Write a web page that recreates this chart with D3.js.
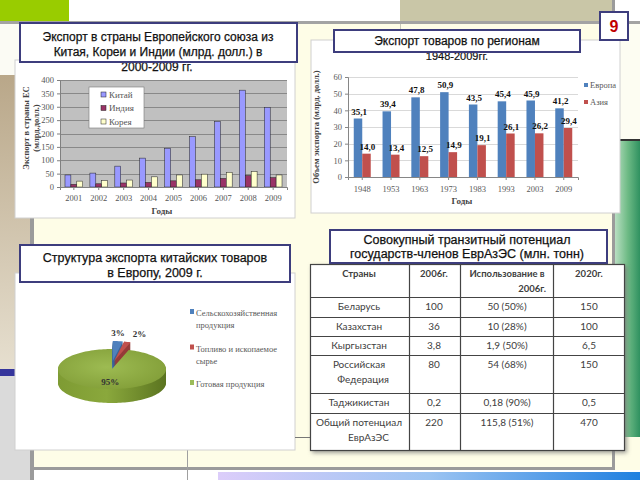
<!DOCTYPE html>
<html><head><meta charset="utf-8">
<script src="https://cdn.jsdelivr.net/npm/d3@7"></script>
<style>body{margin:0;background:#fff;} svg{display:block;}</style>
</head><body>
<svg id="c" width="640" height="480"></svg>
<script>
// ---------- DATA ----------
const years1 = ["2001","2002","2003","2004","2005","2006","2007","2008","2009"];
const series1 = ["Китай","Индия","Корея"];
const china = [45, 52, 78, 108, 145, 188, 245, 362, 298];
const india = [10, 12, 15, 17, 23, 27, 32, 43, 35];
const korea = [22, 24, 26, 38, 45, 48, 55, 58, 45];
const yTicks1 = [0, 50, 100, 150, 200, 250, 300, 350, 400];

const years2 = ["1948","1953","1963","1973","1983","1993","2003","2009"];
const series2 = ["Европа","Азия"];
const europe = [35.1, 39.4, 47.8, 50.9, 43.5, 45.4, 45.9, 41.2];
const asia = [14.0, 13.4, 12.5, 14.9, 19.1, 26.1, 26.2, 29.4];
const yTicks2 = [0, 10, 20, 30, 40, 50, 60];

const pieLabels = [["Сельскохозяйственная","продукция"],["Топливо и ископаемое","сырье"],["Готовая продукция"]];
const pieValues = [3, 2, 95];

const tableHeader = [["Страны"],["2006г."],["Использование в","2006г."],["2020г."]];
const tableCountries = [["Беларусь"],["Казахстан"],["Кыргызстан"],["Российская","Федерация"],["Таджикистан"],["Общий потенциал","ЕврАзЭС"]];
const cap2006 = ["100","36","3,8","80","0,2","220"];
const use2006 = ["50 (50%)","10 (28%)","1,9 (50%)","54 (68%)","0,18 (90%)","115,8 (51%)"];
const cap2020 = ["150","100","6,5","150","0,5","470"];

// ---------- SETUP ----------
const svg = d3.select("#c");
const defs = svg.append("defs");
const SERIF = "'Liberation Serif','Times New Roman',serif";
const SANS = "'Liberation Sans',Arial,sans-serif";

function lin(id, x2, y2, stops){
  const g = defs.append("linearGradient").attr("id",id).attr("x1",0).attr("y1",0).attr("x2",x2).attr("y2",y2);
  stops.forEach(s=>g.append("stop").attr("offset",s[0]).attr("stop-color",s[1]));
}
lin("gBrown",0,1,[[0,"#b9a789"],[1,"#e6dfcf"]]);
lin("gBlueBar",1,0,[[0,"#dccdfa"],[0.5,"#9cc4f2"],[1,"#1f7fe0"]]);
lin("gGreenSide",1,0,[[0,"#b9dfc2"],[0.5,"#6fbb86"],[1,"#2f9160"]]);
lin("gPieSide",1,0,[[0,"#7e9b33"],[0.45,"#8aa83c"],[1,"#5b7420"]]);
const rg = defs.append("radialGradient").attr("id","gPieTop").attr("cx","45%").attr("cy","45%").attr("r","60%");
rg.append("stop").attr("offset",0).attr("stop-color","#9dbb52");
rg.append("stop").attr("offset",1).attr("stop-color","#839f39");
const sh = defs.append("filter").attr("id","shadow").attr("x","-5%").attr("y","-5%").attr("width","112%").attr("height","112%");
sh.append("feDropShadow").attr("dx",2).attr("dy",2).attr("stdDeviation",2).attr("flood-color","#777").attr("flood-opacity",0.7);

// ---------- BACKGROUND ----------
const bg = svg.append("g");
bg.append("rect").attr("width",640).attr("height",480).attr("fill","#fefde7");
bg.append("rect").attr("x",0).attr("y",0).attr("width",640).attr("height",21).attr("fill","#ffffff");
bg.append("rect").attr("x",0).attr("y",0).attr("width",69).attr("height",21).attr("fill","#99cc00");
bg.append("rect").attr("x",400).attr("y",0).attr("width",212).attr("height",21).attr("fill","#c9c6a7");
bg.append("rect").attr("x",0).attr("y",21).attr("width",640).attr("height",3).attr("fill","#a3a3a3");
bg.append("rect").attr("x",0).attr("y",24).attr("width",30).attr("height",51).attr("fill","#fbfbf4");
bg.append("rect").attr("x",0).attr("y",75).attr("width",30).attr("height",294).attr("fill","url(#gBrown)");
bg.append("rect").attr("x",0).attr("y",369).attr("width",30).attr("height",7).attr("fill","#35359c");
bg.append("rect").attr("x",0).attr("y",376).attr("width",30).attr("height",104).attr("fill","#dadada");
bg.append("rect").attr("x",30).attr("y",24).attr("width",4).attr("height",456).attr("fill","#9b9b9b");
bg.append("rect").attr("x",34).attr("y",470).attr("width",606).attr("height",10).attr("fill","#ffffff");
bg.append("rect").attr("x",34).attr("y",467).attr("width",581).attr("height",3).attr("fill","#9b9b9b");
bg.append("line").attr("x1",187.5).attr("x2",187.5).attr("y1",440).attr("y2",480).attr("stroke","#a0a0a0");
bg.append("line").attr("x1",400.5).attr("x2",400.5).attr("y1",24).attr("y2",45).attr("stroke","#c8c8b8");
bg.append("rect").attr("x",218).attr("y",472).attr("width",422).attr("height",8).attr("fill","url(#gBlueBar)");
bg.append("rect").attr("x",615).attr("y",24).attr("width",25).attr("height",116).attr("fill","#fdfdf2");
bg.append("rect").attr("x",612).attr("y",0).attr("width",3).attr("height",470).attr("fill","#9b9b9b");
bg.append("rect").attr("x",615).attr("y",141).attr("width",25).attr("height",296).attr("fill","url(#gGreenSide)");
bg.append("rect").attr("x",612).attr("y",139).attr("width",28).attr("height",2).attr("fill","#333");

function titleBox(x,y,w,h,lines,baselines,cx,size){
  const g = svg.append("g");
  g.append("rect").attr("x",x).attr("y",y).attr("width",w).attr("height",h)
    .attr("fill","#fff").attr("stroke","#3d3d7d").attr("stroke-width",2);
  lines.forEach((t,i)=>g.append("text").attr("x",cx).attr("y",baselines[i]).attr("text-anchor","middle")
    .attr("font-family",SANS).attr("font-size",size).attr("fill","#111")
    .attr("stroke","#111").attr("stroke-width",0.25).text(t));
}

// ---------- CHART 1 ----------
svg.append("rect").attr("x",15).attr("y",60).attr("width",280).attr("height",158).attr("fill","#fff").attr("stroke","#d0d0d0");
svg.append("text").attr("x",157).attr("y",71).attr("text-anchor","middle").attr("font-family",SANS).attr("font-size",12).attr("fill","#111").attr("stroke","#111").attr("stroke-width",0.25).text("2000-2009 гг.");
const c1 = svg.append("g");
const x1 = d3.scaleBand().domain(years1).range([60,287]).paddingInner(0.29).paddingOuter(0.2);
const x1s = d3.scaleBand().domain(series1).range([0,x1.bandwidth()]);
const y1 = d3.scaleLinear().domain([0,400]).range([187,80]);
c1.append("rect").attr("x",60).attr("y",80).attr("width",227).attr("height",107).attr("fill","#c0c0c0");
c1.selectAll(".g1").data(yTicks1).join("line").attr("x1",60).attr("x2",287)
  .attr("y1",d=>Math.round(y1(d))+0.5).attr("y2",d=>Math.round(y1(d))+0.5).attr("stroke","#7a7a7a").attr("stroke-width",0.8);
const cols1 = ["#9999ff","#993366","#ffffcc"];
const vals1 = [china, india, korea];
series1.forEach((s,si)=>{
  c1.selectAll(null).data(years1).join("rect")
    .attr("x",d=>x1(d)+x1s(s)).attr("width",x1s.bandwidth())
    .attr("y",(d,i)=>y1(vals1[si][i])).attr("height",(d,i)=>y1(0)-y1(vals1[si][i]))
    .attr("fill",cols1[si]).attr("stroke","#222").attr("stroke-width",0.5);
});
const ax1 = c1.append("g").attr("transform","translate(60,0)").call(d3.axisLeft(y1).tickValues(yTicks1).tickSize(3));
ax1.select(".domain").attr("stroke","#808080");
ax1.selectAll("line").attr("stroke","#808080");
ax1.selectAll("text").attr("font-family",SERIF).attr("font-size",8.5).attr("fill","#555");
const bx1 = c1.append("g").attr("transform","translate(0,187)").call(d3.axisBottom(x1).tickSize(3).tickPadding(5));
bx1.select(".domain").attr("stroke","#808080");
bx1.selectAll("line").attr("stroke","#808080");
bx1.selectAll("text").attr("font-family",SERIF).attr("font-size",8.5).attr("fill","#555");
c1.append("text").attr("x",162).attr("y",214).attr("text-anchor","middle").attr("font-family",SERIF).attr("font-weight","bold").attr("font-size",9).attr("fill","#444").text("Годы");
c1.append("text").attr("transform","translate(29,128) rotate(-90)").attr("text-anchor","middle").attr("font-family",SERIF).attr("font-weight","bold").attr("font-size",8.5).attr("fill","#444").text("Экспорт в страны ЕС");
c1.append("text").attr("transform","translate(39,128) rotate(-90)").attr("text-anchor","middle").attr("font-family",SERIF).attr("font-weight","bold").attr("font-size",8.5).attr("fill","#444").text("(млрд.долл.)");
c1.append("rect").attr("x",89).attr("y",87).attr("width",55).attr("height",41).attr("fill","#fff").attr("stroke","#777").attr("stroke-width",0.6);
series1.forEach((s,i)=>{
  c1.append("rect").attr("x",101).attr("y",92+i*13.5).attr("width",5).attr("height",5).attr("fill",cols1[i]).attr("stroke","#222").attr("stroke-width",0.5);
  c1.append("text").attr("x",109).attr("y",97.5+i*13.5).attr("font-family",SERIF).attr("font-size",9).attr("fill","#555").text(s);
});
titleBox(20,23,277,39,["Экспорт в страны Европейского союза из","Китая, Кореи и Индии (млрд. долл.) в"],[41,56],158,12);

// ---------- CHART 2 ----------
svg.append("rect").attr("x",311).attr("y",40).attr("width",309).attr("height",173).attr("fill","#fff").attr("stroke","#d0d0d0");
svg.append("text").attr("x",457).attr("y",60).attr("text-anchor","middle").attr("font-family",SANS).attr("font-size",11).attr("fill","#111").attr("stroke","#111").attr("stroke-width",0.2).text("1948-2009гг.");
const c2 = svg.append("g");
const x2 = d3.scaleBand().domain(years2).range([348,578]).paddingInner(0.41).paddingOuter(0.2);
const x2s = d3.scaleBand().domain(series2).range([0,x2.bandwidth()]);
const y2 = d3.scaleLinear().domain([0,60]).range([177,77]);
c2.selectAll(null).data(yTicks2.slice(1)).join("line").attr("x1",348).attr("x2",578)
  .attr("y1",d=>Math.round(y2(d))+0.5).attr("y2",d=>Math.round(y2(d))+0.5).attr("stroke","#d9d9d9");
const cols2 = ["#4f81bd","#c0504d"];
const vals2 = [europe, asia];
series2.forEach((s,si)=>{
  c2.selectAll(null).data(years2).join("rect")
    .attr("x",d=>x2(d)+x2s(s)).attr("width",x2s.bandwidth())
    .attr("y",(d,i)=>y2(vals2[si][i])).attr("height",(d,i)=>y2(0)-y2(vals2[si][i]))
    .attr("fill",cols2[si]);
  c2.selectAll(null).data(years2).join("text")
    .attr("x",d=>x2(d)+x2s(s)+x2s.bandwidth()/2+1).attr("y",(d,i)=>y2(vals2[si][i])-4)
    .attr("text-anchor","middle").attr("font-family",SERIF).attr("font-weight","bold").attr("font-size",9).attr("fill","#111")
    .text((d,i)=>vals2[si][i].toFixed(1).replace(".",","));
});
const ax2 = c2.append("g").attr("transform","translate(348,0)").call(d3.axisLeft(y2).tickValues(yTicks2).tickSize(3));
ax2.select(".domain").attr("stroke","#868686");
ax2.selectAll("line").attr("stroke","#868686");
ax2.selectAll("text").attr("font-family",SERIF).attr("font-size",8.5).attr("fill","#595959");
const bx2 = c2.append("g").attr("transform","translate(0,177)").call(d3.axisBottom(x2).tickSize(3).tickPadding(6));
bx2.select(".domain").attr("stroke","#868686");
bx2.selectAll("line").attr("stroke","#868686");
bx2.selectAll("text").attr("font-family",SERIF).attr("font-size",8.5).attr("fill","#595959");
c2.append("text").attr("x",462).attr("y",204).attr("text-anchor","middle").attr("font-family",SERIF).attr("font-weight","bold").attr("font-size",9).attr("fill","#444").text("Годы");
c2.append("text").attr("transform","translate(319,127) rotate(-90)").attr("text-anchor","middle").attr("font-family",SERIF).attr("font-weight","bold").attr("font-size",8.5).attr("fill","#444").text("Объем экспорта (млрд. долл.)");
series2.forEach((s,i)=>{
  c2.append("rect").attr("x",584).attr("y",83+i*17).attr("width",4).attr("height",4).attr("fill",cols2[i]);
  c2.append("text").attr("x",590).attr("y",88+i*17).attr("font-family",SERIF).attr("font-size",8.5).attr("fill","#595959").text(s);
});
titleBox(334,30,246,22,["Экспорт товаров по регионам"],[45],457,12);

// ---------- PIE ----------
svg.append("rect").attr("x",15).attr("y",273).attr("width",280).attr("height",177).attr("fill","#fff").attr("stroke","#d0d0d0");
svg.append("line").attr("x1",295).attr("x2",310).attr("y1",437.5).attr("y2",437.5).attr("stroke","#777");
const c3 = svg.append("g");
const pieGen = d3.pie().sort(null).startAngle(0).endAngle(2*Math.PI);
const arcs = pieGen(pieValues);
const pcx=112, pcy=369, prx=54, pry=20, pdepth=14;
const pieTop = ["#4f81bd","#c0504d","url(#gPieTop)"];
const pieSide = ["#3a6498","#963c3a","url(#gPieSide)"];
const pieLegendCol = ["#4f81bd","#c0504d","#9bbb59"];
function pt(a,r){ return [pcx + prx*r*Math.sin(a), pcy - pry*r*Math.cos(a)]; }
function slicePath(d,dx,dy){
  const p = d3.path();
  p.moveTo(pcx+dx,pcy+dy);
  const n = Math.max(3, Math.ceil((d.endAngle-d.startAngle)/0.04));
  for(let i=0;i<=n;i++){ const a=d.startAngle+(d.endAngle-d.startAngle)*i/n; const q=pt(a,1); p.lineTo(q[0]+dx,q[1]+dy); }
  p.closePath();
  return p.toString();
}
const explode = arcs.map((d,i)=> pieValues[i] < 10 ? 8 : 0);
[0,1,2].forEach(i=>{
  const d = arcs[i];
  const mid = (d.startAngle+d.endAngle)/2;
  const dx = explode[i]*Math.sin(mid), dy = -explode[i]*Math.cos(mid);
  for(let k=pdepth;k>=1;k--){
    c3.append("path").attr("d",slicePath(d,dx,dy+k)).attr("fill",pieSide[i]);
  }
  c3.append("path").attr("d",slicePath(d,dx,dy)).attr("fill",pieTop[i]);
});
arcs.forEach((d,i)=>{
  const mid=(d.startAngle+d.endAngle)/2;
  let q;
  if(pieValues[i] < 10){ q = pt(mid,1); q=[q[0]+ (i===1?14:1), q[1]-13]; }
  else { q = pt(mid,0.2); q=[q[0],q[1]+12]; }
  c3.append("text").attr("x",q[0]).attr("y",q[1]).attr("text-anchor","middle")
    .attr("font-family",SERIF).attr("font-weight","bold").attr("font-size",9).attr("fill","#333")
    .text(pieValues[i]+"%");
});
let ly = 313;
pieLabels.forEach((lines,i)=>{
  c3.append("rect").attr("x",190).attr("y",ly-4).attr("width",4).attr("height",5).attr("fill",pieLegendCol[i]);
  lines.forEach((t,j)=>c3.append("text").attr("x",196).attr("y",ly+3+j*12).attr("font-family",SERIF).attr("font-size",8.5).attr("fill","#595959").text(t));
  ly += 35.5;
});
titleBox(20,245,270,37,["Структура экспорта китайских товаров","в Европу, 2009 г."],[262,277],155,12.5);

// ---------- TABLE ----------
const colX = [310, 409, 460, 553, 625];
const rowY = [264, 297, 317, 336, 355, 393, 413, 451];
const tg = svg.append("g");
tg.append("rect").attr("x",colX[0]).attr("y",rowY[0]).attr("width",colX[4]-colX[0]).attr("height",rowY[7]-rowY[0])
  .attr("fill","#fff").attr("filter","url(#shadow)");
rowY.slice(1,7).forEach(y=>tg.append("line").attr("x1",colX[0]).attr("x2",colX[4]).attr("y1",y+0.5).attr("y2",y+0.5).attr("stroke","#444").attr("stroke-width",1.2));
colX.slice(1,4).forEach(x=>tg.append("line").attr("x1",x+0.5).attr("x2",x+0.5).attr("y1",rowY[0]).attr("y2",rowY[7]).attr("stroke","#444").attr("stroke-width",1.2));
tg.append("rect").attr("x",colX[0]+0.5).attr("y",rowY[0]+0.5).attr("width",colX[4]-colX[0]-1).attr("height",rowY[7]-rowY[0]-1)
  .attr("fill","none").attr("stroke","#444").attr("stroke-width",1.2);
const TF = "Lato,'Open Sans',sans-serif";
function cellText(lines,col,row,bold){
  const top = rowY[row];
  const cxs = [359, 434, 507, 589];
  lines.forEach((t,j)=>{
    let x = cxs[col], anchor = "middle";
    if(j===1){ anchor="end"; x = col===0 ? 389 : 546; }
    tg.append("text").attr("x",x).attr("y",top+13+j*15).attr("text-anchor",anchor)
      .attr("font-family",TF).attr("font-size",bold?9.5:10).attr("font-weight",bold?"bold":"normal").attr("fill","#404040").text(t);
  });
}
tableHeader.forEach((h,c)=>cellText(h,c,0,true));
tableCountries.forEach((n,r)=>{
  cellText(n,0,r+1,false);
  cellText([cap2006[r]],1,r+1,false);
  cellText([use2006[r]],2,r+1,false);
  cellText([cap2020[r]],3,r+1,false);
});
titleBox(330,230,277,33,["Совокупный транзитный потенциал","государств-членов ЕврАзЭС (млн. тонн)"],[244,258],467,12.5);

// ---------- PAGE NUMBER ----------
svg.append("rect").attr("x",600).attr("y",12).attr("width",28).attr("height",28).attr("fill","#fff").attr("stroke","#3d3d7d").attr("stroke-width",2);
svg.append("text").attr("x",614).attr("y",32).attr("text-anchor","middle").attr("font-family",SANS).attr("font-weight","bold").attr("font-size",16).attr("fill","#c00000").text("9");
</script>
</body></html>
